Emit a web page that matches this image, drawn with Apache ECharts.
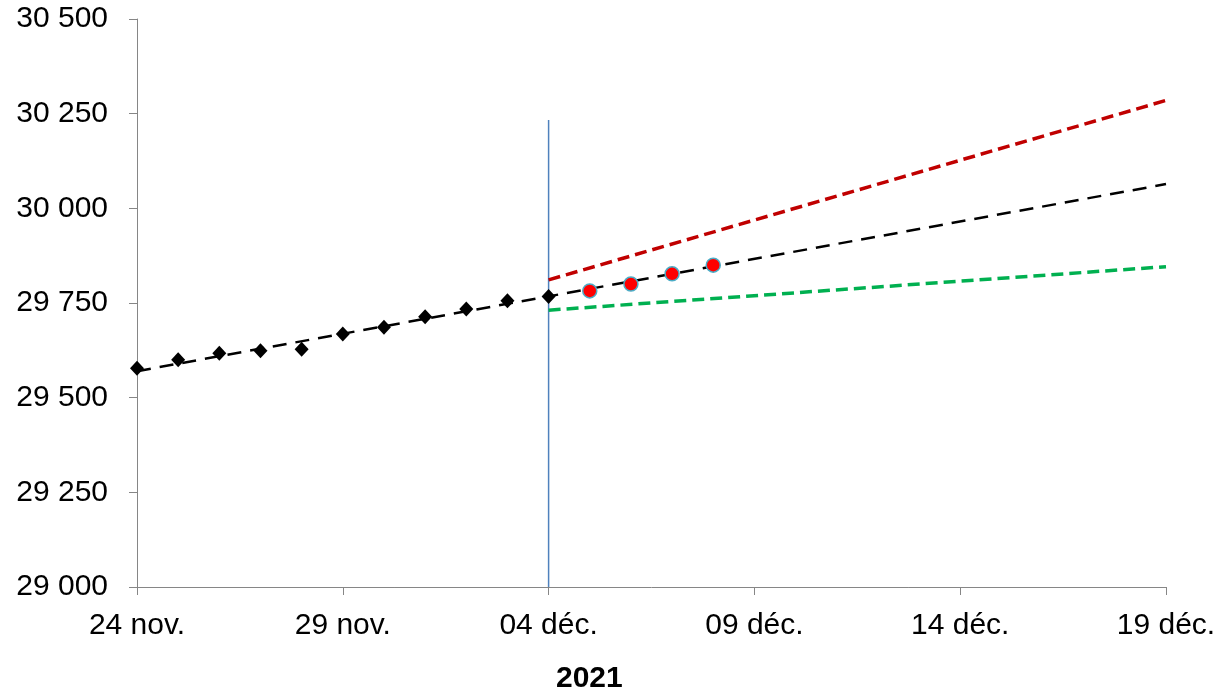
<!DOCTYPE html>
<html>
<head>
<meta charset="utf-8">
<script src="https://cdn.jsdelivr.net/npm/echarts@6/dist/echarts.min.js"></script>
<style>
html,body{margin:0;padding:0;background:#fff;}
#chart{width:1219px;height:696px;}
</style>
</head>
<body>
<div id="chart"></div>
<script>
// ---- data ----
const startDate = '2021-11-24';
const observedDates = ['2021-11-24','2021-11-25','2021-11-26','2021-11-27','2021-11-28','2021-11-29','2021-11-30','2021-12-01','2021-12-02','2021-12-03','2021-12-04'];
const observedValues = [29578, 29600, 29617, 29624, 29628, 29668, 29686, 29714, 29734, 29756, 29767];
const newDates = ['2021-12-05','2021-12-06','2021-12-07','2021-12-08'];
const newValues = [29782, 29800, 29827, 29850];
const trendDates = ['2021-11-24','2021-12-19'];
const trendValues = [29570, 30064];
const upperDates = ['2021-12-04','2021-12-19'];
const upperValues = [29811, 30285];
const lowerDates = ['2021-12-04','2021-12-19'];
const lowerValues = [29731, 29846];
const markerDates = ['2021-12-04','2021-12-04'];
const markerValues = [29000, 30233];
const xTickLabels = ['24 nov.','29 nov.','04 déc.','09 déc.','14 déc.','19 déc.'];
const yearLabel = '2021';

// ---- helpers ----
function dayOffset(d){
  const p = d.split('-').map(Number), s = startDate.split('-').map(Number);
  return Math.round((Date.UTC(p[0],p[1]-1,p[2]) - Date.UTC(s[0],s[1]-1,s[2]))/86400000);
}
function pairs(ds, vs){ return ds.map((d,i)=>[dayOffset(d), vs[i]]); }
function fmtNum(v){ return String(v).replace(/\B(?=(\d{3})+(?!\d))/g,' '); }

const chart = echarts.init(document.getElementById('chart'), null, {renderer:'canvas'});
const font = 'Liberation Sans, Arial, sans-serif';
chart.setOption({
  animation:false,
  backgroundColor:'#fff',
  grid:{left:137, right:53, top:19, bottom:109, containLabel:false},
  xAxis:{
    type:'value', min:0, max:25, interval:5,
    axisLine:{show:true, lineStyle:{color:'#868686', width:1}},
    axisTick:{show:true, length:8, inside:false, lineStyle:{color:'#868686'}},
    splitLine:{show:false},
    axisLabel:{margin:24, fontSize:30, color:'#000', fontFamily:font,
      formatter:(v)=>xTickLabels[Math.round(v/5)] || ''}
  },
  yAxis:{
    type:'value', min:29000, max:30500, interval:250,
    axisLine:{show:true, lineStyle:{color:'#868686', width:1}},
    axisTick:{show:true, length:8, inside:false, lineStyle:{color:'#868686'}},
    splitLine:{show:false},
    axisLabel:{margin:29, fontSize:30, color:'#000', fontFamily:font, formatter:fmtNum}
  },
  graphic:[{
    type:'text', left:556, top:664,
    style:{text:yearLabel, font:'bold 30px '+font, fill:'#000'}
  }],
  series:[
    {type:'line', data:pairs(markerDates, markerValues), symbol:'none',
      lineStyle:{color:'#4F81BD', width:1.5}, z:1},
    {type:'line', data:pairs(upperDates, upperValues), symbol:'none',
      lineStyle:{color:'#C00000', width:3.5, type:[12,6]}, z:2},
    {type:'line', data:pairs(lowerDates, lowerValues), symbol:'none',
      lineStyle:{color:'#00B050', width:3.5, type:[12,6]}, z:2},
    {type:'line', data:pairs(trendDates, trendValues), symbol:'none',
      lineStyle:{color:'#000', width:2.5, type:[14,9]}, z:3},
    {type:'scatter', data:pairs(observedDates, observedValues), symbol:'diamond',
      symbolSize:[14,15], itemStyle:{color:'#000', opacity:1}, z:4},
    {type:'scatter', data:pairs(newDates, newValues), symbol:'circle',
      symbolSize:14, itemStyle:{color:'#FF0000', borderColor:'#4BACC6', borderWidth:1.5, opacity:1}, z:4}
  ]
});
</script>
</body>
</html>
